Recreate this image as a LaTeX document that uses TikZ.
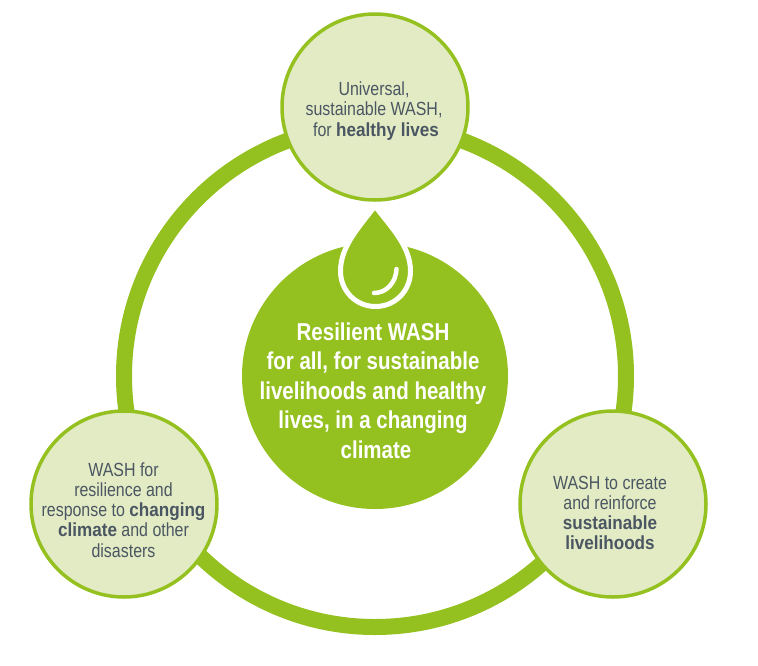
\documentclass[tikz,border=0pt]{standalone}
\usepackage{fontspec}
\setmainfont[FakeStretch=0.84,BoldFeatures={FakeStretch=0.90}]{Liberation Sans}
\newfontfamily\hubfont[FakeStretch=0.84]{Liberation Sans}
\definecolor{wgreen}{HTML}{94C11F}
\definecolor{wlight}{HTML}{E3EBC5}
\definecolor{wtext}{HTML}{4A5661}
\tikzset{
  px/.style={x=1pt,y=-1pt},
  topic/.style={circle,draw=wgreen,line width=3.5pt,fill=wlight,minimum size=186pt,inner sep=0pt},
  topictext/.style={text=wtext,align=center,inner sep=0pt,font=\fontsize{19}{20.2}\selectfont},
  ringshape/.style={circle,draw=wgreen,line width=16pt,minimum size=502pt,inner sep=0pt},
  hub/.style={circle,fill=wgreen,minimum size=266pt,inner sep=0pt},
  hubtext/.style={text=white,align=center,inner sep=0pt,font=\hubfont\fontsize{24.4}{29.4}\selectfont\bfseries},
}
\begin{document}
\begin{tikzpicture}[px]
\useasboundingbox (0,0) rectangle (758,665);
\node[ringshape] (ring) at (375,376) {};
\node[hub] (hub) at (375,376) {};
% water drop
\path[fill=wgreen,draw=white,line width=5pt,line join=miter]
  (375,206) .. controls (360,226) and (340.5,246) .. (340.5,271)
  .. controls (340.5,291) and (356,306.5) .. (375.5,306.5)
  .. controls (395,306.5) and (410.5,291) .. (410.5,271)
  .. controls (410.5,246) and (390,226) .. (375,206) -- cycle;
\draw[white,line width=4.5pt,line cap=round] (374,293) .. controls (386,293) and (396,283) .. (396.5,269);
\node[topic] (top) at (375,107) {};
\node[topic] (left) at (124,504) {};
\node[topic] (right) at (613,504) {};
\node[topictext] (toplbl) at (374,111) {Universal,\\sustainable WASH,\\ \hspace*{4pt}for \textbf{healthy lives}};
\node[topictext] (leftlbl) at (123.5,510) {WASH for\\resilience and\\response to \textbf{changing}\\\textbf{climate} and other\\disasters};
\node[topictext] (rightlbl) at (610,513) {WASH to create\\and reinforce\\\textbf{sustainable}\\\textbf{livelihoods}};
\node[hubtext] (hubl) at (373,390.5) {Resilient WASH\\for all, for sustainable\\livelihoods and healthy\\lives, in a changing\\\hspace*{6pt}climate};
\end{tikzpicture}
\end{document}
